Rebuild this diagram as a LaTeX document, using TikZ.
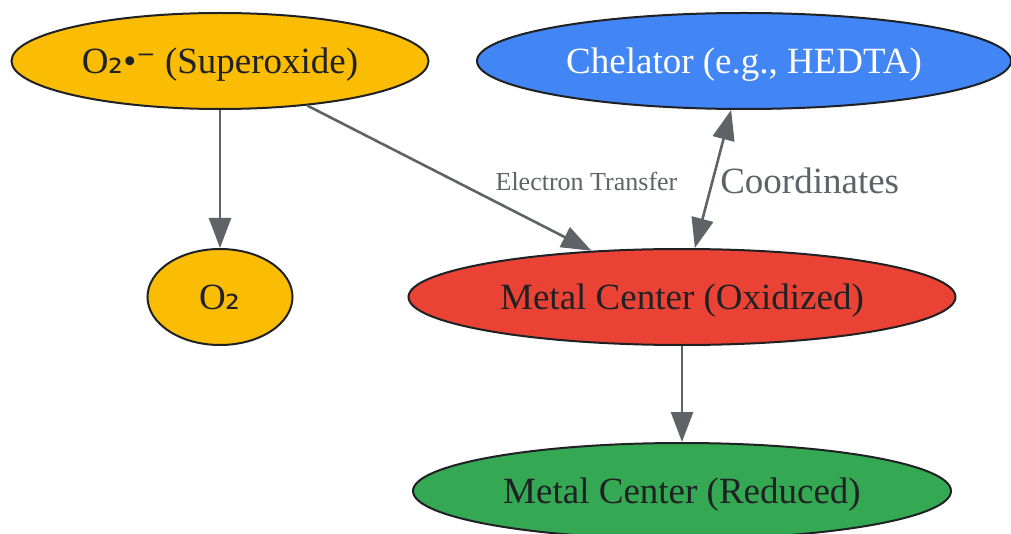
\documentclass[tikz,border=0pt]{standalone}
\usepackage{fontspec}
\setmainfont{Liberation Serif}
\newfontfamily\symfont{DejaVu Sans}
\usetikzlibrary{shapes.geometric,arrows.meta}
\definecolor{gold}{HTML}{FBBC04}
\definecolor{gblue}{HTML}{4285F4}
\definecolor{gred}{HTML}{EA4335}
\definecolor{ggreen}{HTML}{34A853}
\definecolor{edgegray}{HTML}{5F6368}
\definecolor{ink}{HTML}{202124}
\begin{document}
\begin{tikzpicture}[x=0.5pt,y=-0.5pt,
    blob/.style={ellipse,draw=ink,line width=1pt,minimum height=48pt,inner sep=0pt,text depth=0pt,text=ink,font=\fontsize{18.5}{20}\selectfont},
    flow/.style={draw=edgegray,line width=1.3pt,-{Triangle[length=15pt,width=11pt]}},
    elabel/.style={text=edgegray,inner sep=1pt}]
    \useasboundingbox (0,0) rectangle (1011,534);
    \node[blob,fill=gold,minimum width=208.5pt] (sup) at (220,61) {O{\symfont ₂}•{\symfont ⁻} (Superoxide)};
    \node[blob,fill=gblue,text=white,minimum width=267pt] (chel) at (744,61) {Chelator (e.g., HEDTA)};
    \node[blob,fill=gold,minimum width=72.5pt] (otwo) at (220,297) {O{\symfont ₂}};
    \node[blob,fill=gred,minimum width=273.5pt] (ox) at (682,297) {Metal Center (Oxidized)};
    \node[blob,fill=ggreen,minimum width=269pt] (red) at (682,491) {Metal Center (Reduced)};
    \draw[flow] (sup) -- (otwo);
    \draw[flow] (sup) -- node[elabel,font=\fontsize{13}{15}\selectfont,anchor=west,xshift=21.5pt,yshift=-1.5pt] {Electron Transfer} (ox);
    \draw[flow,{Triangle[length=15pt,width=11pt]}-{Triangle[length=15pt,width=11pt]}] (chel) -- node[elabel,font=\fontsize{18.5}{20}\selectfont,anchor=west,xshift=2pt,yshift=-1pt] {Coordinates} (ox);
    \draw[flow] (ox) -- (red);
\end{tikzpicture}
\end{document}
